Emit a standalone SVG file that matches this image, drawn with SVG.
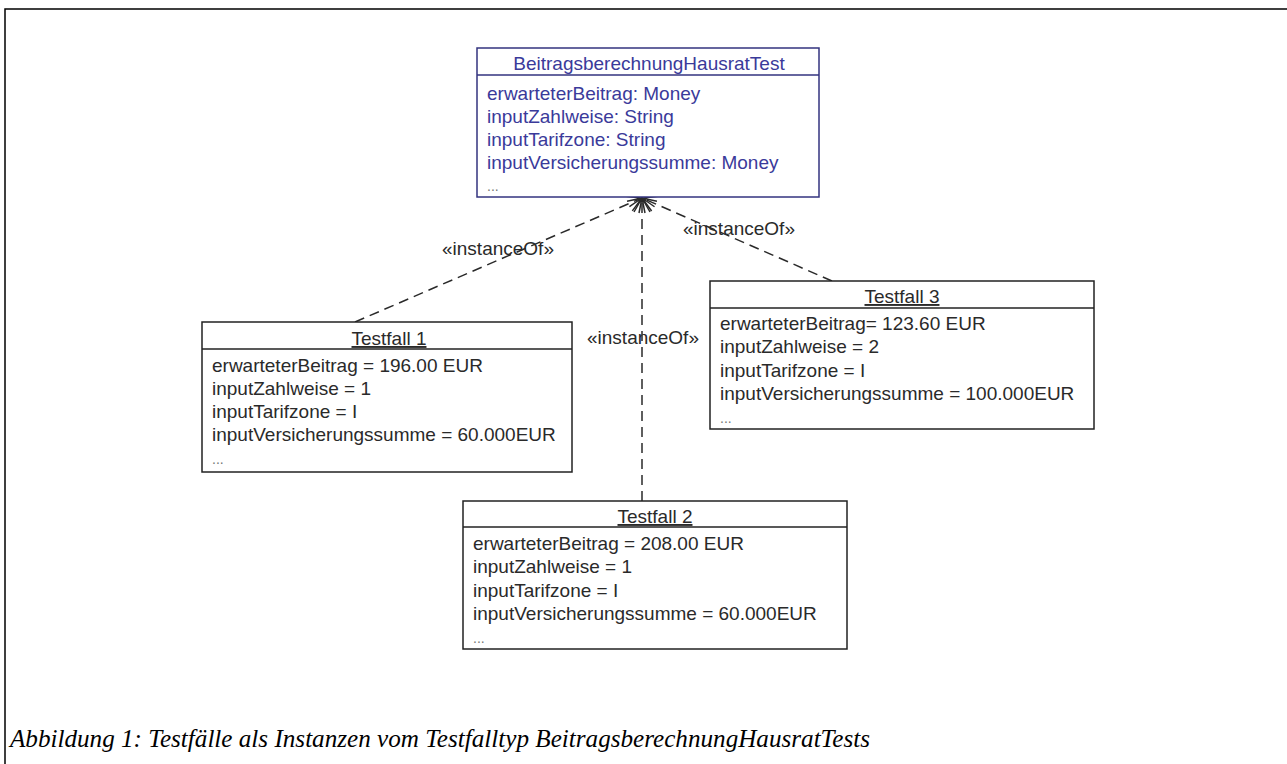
<svg xmlns="http://www.w3.org/2000/svg" width="1287" height="764" viewBox="0 0 1287 764">
<style>
.box{fill:#fff;stroke:#222;stroke-width:1.5}
.cls{fill:#fff;stroke:#33337f;stroke-width:1.5}
.sep{stroke:#222;stroke-width:1.5}
.csep{stroke:#33337f;stroke-width:1.5}
text{font-family:"Liberation Sans",Arial,sans-serif;font-size:19px;fill:#2a2a2a}
.ct{fill:#3a3a9a}
.title{text-anchor:middle;text-decoration:underline}
.dots{font-size:14px;fill:#777}
.dep{fill:none;stroke:#2a2a2a;stroke-width:1.5;stroke-dasharray:10 6}
.cap{font-family:"Liberation Serif","Times New Roman",serif;font-style:italic;font-size:26px;fill:#000}
</style>
<defs>
<marker id="open" viewBox="-16 -9 18 18" refX="0" refY="0" markerWidth="18" markerHeight="18" markerUnits="userSpaceOnUse" orient="auto">
<path d="M-14,-8 L0,0 L-14,8 M-15,-3 L0,0 L-15,3" fill="none" stroke="#2a2a2a" stroke-width="1.5"/>
</marker>
</defs>
<rect width="1287" height="764" fill="#fff"/>
<path d="M5,764 V9 H1287" fill="none" stroke="#000" stroke-width="1.5"/>

<g id="connectors">
<path class="dep" d="M355,322 L642,198" marker-end="url(#open)"/>
<path class="dep" d="M642,501 L642,198" marker-end="url(#open)"/>
<path class="dep" d="M832,281 L642,198" marker-end="url(#open)"/>
<text x="442" y="255">«instanceOf»</text>
<text x="587" y="344">«instanceOf»</text>
<text x="683" y="235">«instanceOf»</text>
</g>

<g id="BeitragsberechnungHausratTest">
<rect class="cls" x="477" y="48" width="342" height="149"/>
<line class="csep" x1="477" y1="75" x2="819" y2="75"/>
<text class="ct" x="649" y="70" text-anchor="middle">BeitragsberechnungHausratTest</text>
<text class="ct" x="487" y="100">erwarteterBeitrag: Money</text>
<text class="ct" x="487" y="123">inputZahlweise: String</text>
<text class="ct" x="487" y="146">inputTarifzone: String</text>
<text class="ct" x="487" y="169">inputVersicherungssumme: Money</text>
<text class="ct dots" x="487" y="191">...</text>
</g>

<g id="testfall1">
<rect class="box" x="202" y="322" width="370" height="150"/>
<line class="sep" x1="202" y1="349" x2="572" y2="349"/>
<text class="title" x="389" y="345">Testfall 1</text>
<text x="212" y="372">erwarteterBeitrag = 196.00 EUR</text>
<text x="212" y="395">inputZahlweise = 1</text>
<text x="212" y="418">inputTarifzone = I</text>
<text x="212" y="441">inputVersicherungssumme = 60.000EUR</text>
<text class="dots" x="212" y="464">...</text>
</g>

<g id="testfall2">
<rect class="box" x="463" y="501" width="384" height="148"/>
<line class="sep" x1="463" y1="527" x2="847" y2="527"/>
<text class="title" x="655" y="523">Testfall 2</text>
<text x="473" y="550">erwarteterBeitrag = 208.00 EUR</text>
<text x="473" y="573">inputZahlweise = 1</text>
<text x="473" y="597">inputTarifzone = I</text>
<text x="473" y="620">inputVersicherungssumme = 60.000EUR</text>
<text class="dots" x="473" y="643">...</text>
</g>

<g id="testfall3">
<rect class="box" x="710" y="281" width="384" height="148"/>
<line class="sep" x1="710" y1="308" x2="1094" y2="308"/>
<text class="title" x="902" y="303">Testfall 3</text>
<text x="720" y="330">erwarteterBeitrag= 123.60 EUR</text>
<text x="720" y="353">inputZahlweise = 2</text>
<text x="720" y="377">inputTarifzone = I</text>
<text x="720" y="400">inputVersicherungssumme = 100.000EUR</text>
<text class="dots" x="720" y="423">...</text>
</g>

<text class="cap" x="10" y="747" textLength="860" lengthAdjust="spacingAndGlyphs">Abbildung 1: Testfälle als Instanzen vom Testfalltyp BeitragsberechnungHausratTests</text>
</svg>
